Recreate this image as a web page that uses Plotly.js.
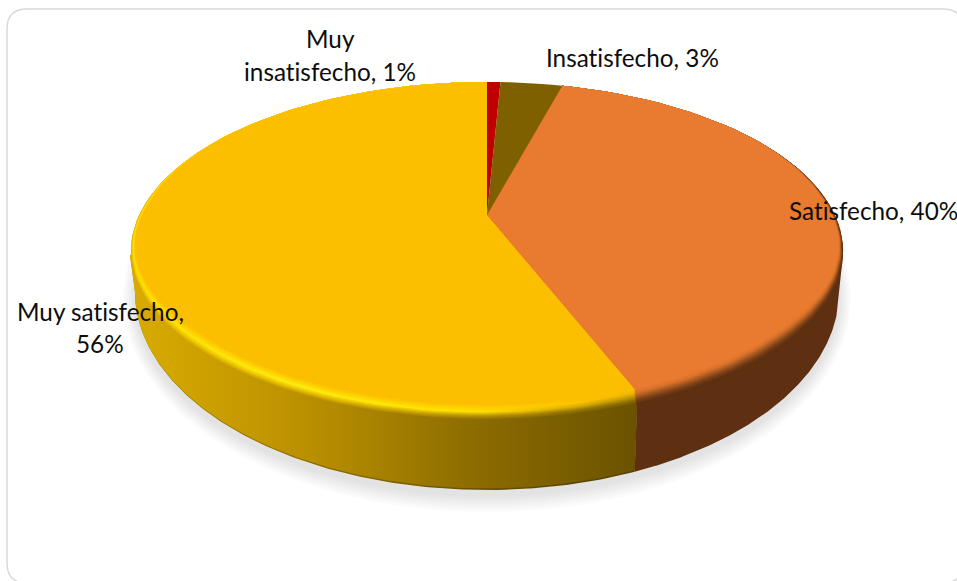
<!DOCTYPE html>
<html><head><meta charset="utf-8">
<script src="https://cdn.plot.ly/plotly-3.0.1.min.js"></script>
<style>html,body{margin:0;padding:0;background:#fff}#c{width:957px;height:581px}
text{font-variant-ligatures:none;font-feature-settings:"liga" 0}</style>
</head><body><div id="c"></div><script>
// ---- data ----
const categories = ["Muy insatisfecho", "Insatisfecho", "Satisfecho", "Muy satisfecho"];
const shares = [0.75, 3.45, 40.2, 55.6];
const topColors = ["#C00000", "#7F6000", "#E97B30", "#FBBF00"];

// ---- perspective model of the disc, in pixel-sized axis units ----
const apexX = 487, apexY = 215, A = 348, B = 161.4, K = 0.213;
const baseCy = 292, baseRx = 352, baseRy = 198;
const bevel = 15, steps = 12, arcN = 160;

function clamp(v,a,b){return Math.max(a,Math.min(b,v));}
function rim(share, e){           // share: 0..100 clockwise from 12 o'clock; e: 0 rim ... 1 inner bevel edge
  const t = share/100*2*Math.PI, X = Math.sin(t), Y = -Math.cos(t), w = 1 - K*Y;
  const g = clamp((Y+0.6)/0.6,0,1), f = clamp((Y+0.1)/0.8,0,1);
  return [apexX + A*X/w*(1-0.012*e*g), apexY + B*Y/w - e*bevel*f];
}
function wedge(a,b,e){
  const xs=[apexX], ys=[apexY], n=Math.max(2,Math.ceil((b-a)/100*arcN));
  for(let i=0;i<=n;i++){const p=rim(a+(b-a)*i/n,e);xs.push(p[0]);ys.push(p[1]);}
  xs.push(apexX);ys.push(apexY);
  return [xs,ys];
}
function hex(c){return [1,3,5].map(i=>parseInt(c.substr(i,2),16));}
function mix(c1,c2,t){const a=hex(c1),b=hex(c2);return 'rgb('+a.map((v,i)=>Math.round(v+(b[i]-v)*t)).join(',')+')';}
function ramp(tbl,e){
  const s=clamp(e,0,1)*(tbl.length-1), i=Math.min(tbl.length-2,Math.floor(s));
  return mix(tbl[i],tbl[i+1],s-i);
}
const traces=[];
function poly(xs,ys,style){
  traces.push(Object.assign({type:'scatter',mode:'lines',x:xs,y:ys,fill:'toself',line:{width:0},
    hoverinfo:'skip',showlegend:false},style));
}
function baseArc(from,to,ry,cy){     // parameter in radians, 0 = right, pi/2 = bottom
  const xs=[],ys=[];
  for(let i=0;i<=arcN;i++){const t=from+(to-from)*i/arcN;
    xs.push(apexX+baseRx*Math.cos(t));ys.push((cy||baseCy)+(ry||baseRy)*Math.sin(t));}
  return [xs,ys];
}
// ---- soft shadow ----
for(let d=16;d>=1;d-=2.5){
  const xs=[],ys=[];
  for(let i=0;i<=arcN;i++){const t=i/arcN*2*Math.PI;
    xs.push(apexX+(baseRx+d*0.75)*Math.cos(t));ys.push(baseCy+6+(baseRy+d)*Math.sin(t));}
  poly(xs,ys,{fillcolor:'rgba(50,50,60,0.02)'});
}
// ---- side wall ----
const cut = shares[0]+shares[1]+shares[2];
const cutTop = rim(cut,0);
const cutBaseX = apexX+(cutTop[0]-apexX)*0.985;
const cutAngle = Math.acos((cutBaseX-apexX)/baseRx);
const wallStops = ["#D9AB00","#C89C00","#B48B00","#8C6C00","#6B5200"];
const wallPos = [0,0.2,0.4,0.68,1];
const x0=130,x1=637;
function grad(cols,pos){
  return {type:'horizontal',start:x0,stop:x1,colorscale:cols.map((c,i)=>[pos?pos[i]:i/(cols.length-1),c])};
}
function wall(ry,cols){
  const a=baseArc(cutAngle,Math.PI,ry);
  poly([cutTop[0]].concat(a[0],[x0,apexX,cutTop[0]]),[cutTop[1]].concat(a[1],[255,apexY,cutTop[1]]),
       {fillgradient:grad(cols,wallPos)});
}
wall(baseRy,["#A88400","#9A7800","#8C6C00","#6A5200","#544000"]);
wall(baseRy-1.6,wallStops);
{ // orange wall
  const a=baseArc(0,cutAngle,baseRy);
  poly([843].concat(a[0],[cutTop[0],apexX]),[255].concat(a[1],[cutTop[1],apexY]),{fillcolor:'#5E3011'});
}
// ---- top face with bevel ----
const yellowBevel=[
 ["#D8AA00","#BB9000","#8E6E00","#776000","#6B5200"],
 ["#F0C800","#E8C000","#BF9600","#9C7A00","#8A6C00"],
 ["#FFE000","#FFEC10","#FFE000","#E0B000","#C09400"],
 ["#FFD000","#FFD400","#FFD000","#FFC800","#EFB400"],
 ["#FBBF00","#FBBF00","#FBBF00","#FBBF00","#FBBF00"]];
const yellowPos=[0,0.335,0.69,0.85,1];
const orangeBevel=["#5E3011","#7A3F17","#A85A22","#D9722B","#E97B30"];
let start=0; const edges=shares.map(s=>{const r=[start,start+s];start+=s;return r;});
for(let k=0;k<=steps;k++){
  const e=k/steps;
  let w=wedge(edges[3][0],edges[3][1],e);
  poly(w[0],w[1],{fillgradient:grad([0,1,2,3,4].map(j=>ramp(yellowBevel.map(r=>r[j]),e)),yellowPos)});
  w=wedge(edges[2][0],edges[2][1],e);
  poly(w[0],w[1],{fillcolor:ramp(orangeBevel,e)});
}
[0,1].forEach(i=>{const w=wedge(edges[i][0],edges[i][1],1);poly(w[0],w[1],{fillcolor:topColors[i]});});

// ---- labels ----
const pct=shares.map(s=>Math.round(s)+'%');
const labelFont={family:'Lato, "Open Sans", sans-serif',size:24.3,color:'#0d0d0d'};
const labels=[
 [`Muy`,330,38],[`insatisfecho, ${pct[0]}`,330,71],
 [`Insatisfecho, ${pct[1]}`,632,57],
 [`Satisfecho, ${pct[2]}`,873,210],
 [`Muy satisfecho,`,100,311],[pct[3],100,343]];
const annotations=labels.map(l=>({text:l[0],x:l[1],y:l[2],xref:'x',yref:'y',showarrow:false,
  xanchor:'center',yanchor:'middle',font:labelFont}));

const axis={visible:false,fixedrange:true,showgrid:false,zeroline:false};
Plotly.newPlot('c',traces,{
  width:957,height:581,margin:{l:0,r:0,t:0,b:0},paper_bgcolor:'#fff',plot_bgcolor:'#fff',showlegend:false,
  xaxis:Object.assign({range:[0,957]},axis),
  yaxis:Object.assign({range:[581,0]},axis),
  annotations,
  shapes:[{type:'path',xref:'x',yref:'y',layer:'below',
    path:'M 7 29 Q 7 9 27 9 L 943 9 Q 963 9 963 29 L 963 563 Q 963 583 943 583 L 27 583 Q 7 583 7 563 Z',
    line:{color:'#D9D9D9',width:1.5},fillcolor:'#fff'}]
},{displayModeBar:false,staticPlot:true});
</script></body></html>
